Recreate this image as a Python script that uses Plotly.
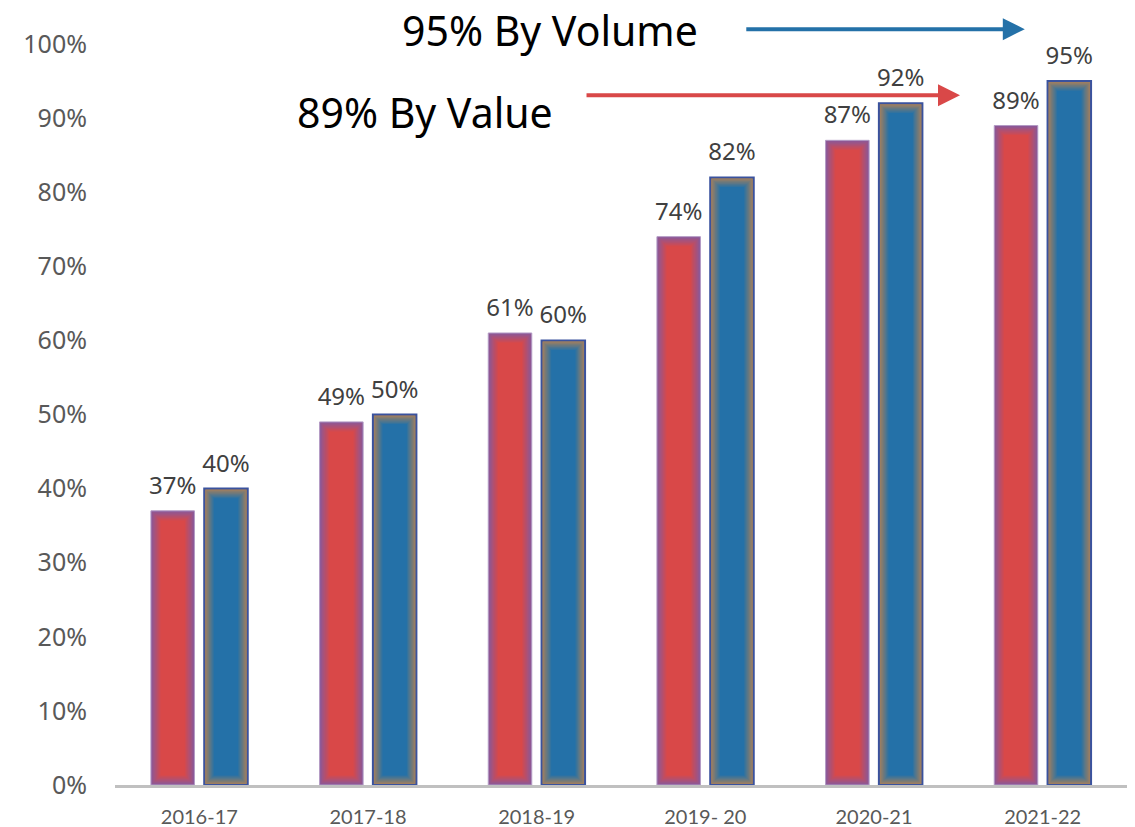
import plotly.graph_objects as go

# chart data
years = ["2016-17", "2017-18", "2018-19", "2019- 20", "2020-21", "2021-22"]
by_value = [37, 49, 61, 74, 87, 89]
by_volume = [40, 50, 60, 82, 92, 95]
y_ticks = [0, 10, 20, 30, 40, 50, 60, 70, 80, 90, 100]

PX_PER_CAT = 168.6
PX_PER_PCT = 7.41
BAR_W = 0.258


def mix(c1, c2, t):
    return "rgb({},{},{})".format(*[round(a + (b - a) * t) for a, b in zip(c1, c2)])


def gradient_bars(fig, values, shift, edge, center, outline, outline_w, steps=9):
    # fake a soft edge glow by stacking narrower bars on top of each other
    xs = [i + shift for i in range(len(values))]
    for k in range(steps):
        inset = k * 1.2
        dx = inset / PX_PER_CAT
        dy = inset / PX_PER_PCT
        t = k / (steps - 1)
        fig.add_trace(
            go.Bar(
                x=xs,
                y=[v - 2 * dy for v in values],
                base=[dy] * len(values),
                width=BAR_W - 2 * dx,
                marker=dict(
                    color=mix(edge, center, t),
                    line=dict(color=outline, width=outline_w if k == 0 else 0),
                ),
                hoverinfo="skip",
                showlegend=False,
            )
        )
    fig.add_trace(
        go.Scatter(
            x=xs,
            y=values,
            mode="text+markers",
            marker=dict(size=16, opacity=0),
            text=[f"{v}%" for v in values],
            textposition="top center",
            textfont=dict(family="Noto Sans", size=24, color="#404040"),
            cliponaxis=False,
            hoverinfo="skip",
            showlegend=False,
        )
    )


fig = go.Figure()
gradient_bars(fig, by_value, -0.158, (138, 88, 152), (217, 72, 72), "#b39ac4", 1)
gradient_bars(fig, by_volume, 0.158, (168, 128, 90), (36, 113, 168), "#3a529e", 2)

arrow_common = dict(
    xref="paper", yref="paper", axref="pixel", ayref="pixel", text="",
    showarrow=True, arrowhead=2, arrowsize=1.1, arrowwidth=4, ay=0,
)
fig.add_annotation(x=0.899, y=1.020, ax=-280, arrowcolor="#2471a8", **arrow_common)
fig.add_annotation(x=0.835, y=0.931, ax=-375, arrowcolor="#d94848", **arrow_common)

text_common = dict(
    xref="paper", yref="paper", showarrow=False, xanchor="center", yanchor="middle",
    font=dict(family="Noto Sans", size=41, color="#000000"),
)
fig.add_annotation(x=0.430, y=1.019, text="95% By Volume", **text_common)
fig.add_annotation(x=0.306, y=0.908, text="89% By Value", **text_common)

fig.update_layout(
    width=1135,
    height=827,
    barmode="overlay",
    plot_bgcolor="white",
    paper_bgcolor="white",
    margin=dict(l=115, r=8, t=44, b=42),
    showlegend=False,
)
fig.update_xaxes(
    range=[-0.5, len(years) - 0.5],
    tickvals=list(range(len(years))),
    ticktext=years,
    tickfont=dict(family="Lato", size=20, color="#595959"),
    showgrid=False,
    zeroline=False,
    showline=True,
    linecolor="#c0c0c0",
    linewidth=3,
    ticks="outside",
    tickcolor="rgba(0,0,0,0)",
    ticklen=12,
    automargin=False,
)
fig.update_yaxes(
    range=[0, 100],
    tickvals=y_ticks,
    ticktext=[f"{t}%" for t in y_ticks],
    tickfont=dict(family="Noto Sans", size=25, color="#595959"),
    showgrid=False,
    zeroline=False,
    showline=False,
    ticks="outside",
    tickcolor="rgba(0,0,0,0)",
    ticklen=22,
    automargin=False,
)

# drop the default 8px body margin so the figure fills the window exactly
fig.write_html(
    "out.html",
    config={"displayModeBar": False},
    post_script="document.body.style.margin = '0';",
)
